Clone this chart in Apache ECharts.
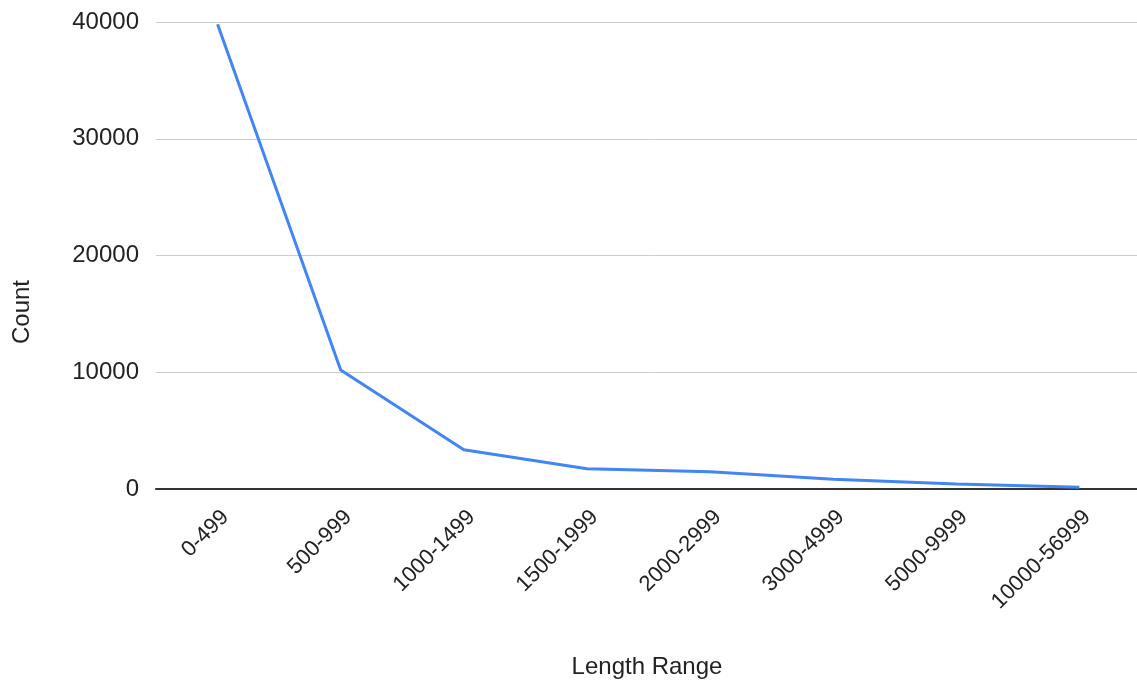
<!DOCTYPE html>
<html>
<head>
<meta charset="utf-8">
<script src="https://cdn.jsdelivr.net/npm/echarts@6/dist/echarts.min.js"></script>
<style>
  html, body { margin: 0; padding: 0; background: #ffffff; overflow: hidden; width: 1137px; height: 684px; }
  /* plot area runs slightly past the right edge of the view */
  #chart { width: 1150px; height: 684px; }
</style>
</head>
<body>
<div id="chart"></div>
<script>
// Length ranges on the category axis
const lengthRanges = ['0-499', '500-999', '1000-1499', '1500-1999', '2000-2999', '3000-4999', '5000-9999', '10000-56999'];
// Number of items in each range
const counts = [39800, 10200, 3360, 1740, 1480, 840, 430, 150];
// Value axis ticks
const yTicks = [0, 10000, 20000, 30000, 40000];

const FONT = '"Liberation Sans", Arial, sans-serif';
const TEXT = '#222222';

const chart = echarts.init(document.getElementById('chart'), null, { renderer: 'canvas' });

chart.setOption({
  animation: false,
  backgroundColor: '#ffffff',
  grid: { left: 156, top: 22, width: 985, height: 467, containLabel: false },
  xAxis: {
    type: 'category',
    data: lengthRanges,
    boundaryGap: true,
    axisLine: { show: true, lineStyle: { color: '#333333', width: 2 } },
    axisTick: { show: false },
    splitLine: { show: false },
    axisLabel: {
      rotate: 45,
      interval: 0,
      margin: 17,
      align: 'right',
      verticalAlign: 'top',
      color: TEXT,
      fontFamily: FONT,
      fontSize: 22
    }
  },
  yAxis: {
    type: 'value',
    min: yTicks[0],
    max: yTicks[yTicks.length - 1],
    interval: yTicks[1] - yTicks[0],
    axisLine: { show: false },
    axisTick: { show: false },
    splitLine: { show: true, lineStyle: { color: '#cccccc', width: 1 } },
    axisLabel: {
      margin: 17,
      color: TEXT,
      fontFamily: FONT,
      fontSize: 24,
      formatter: (v) => String(v)
    }
  },
  series: [{
    type: 'line',
    data: counts,
    symbol: 'none',
    lineStyle: { color: '#4285f4', width: 3 },
    itemStyle: { color: '#4285f4' },
    z: 3
  }],
  graphic: [
    {
      type: 'text',
      x: 22,
      y: 312,
      rotation: Math.PI / 2,
      style: {
        text: 'Count',
        fill: TEXT,
        font: '24px ' + FONT,
        textAlign: 'center',
        textVerticalAlign: 'middle'
      }
    },
    {
      type: 'text',
      x: 647,
      y: 667,
      style: {
        text: 'Length Range',
        fill: TEXT,
        font: '24px ' + FONT,
        textAlign: 'center',
        textVerticalAlign: 'middle'
      }
    }
  ]
});
</script>
</body>
</html>
